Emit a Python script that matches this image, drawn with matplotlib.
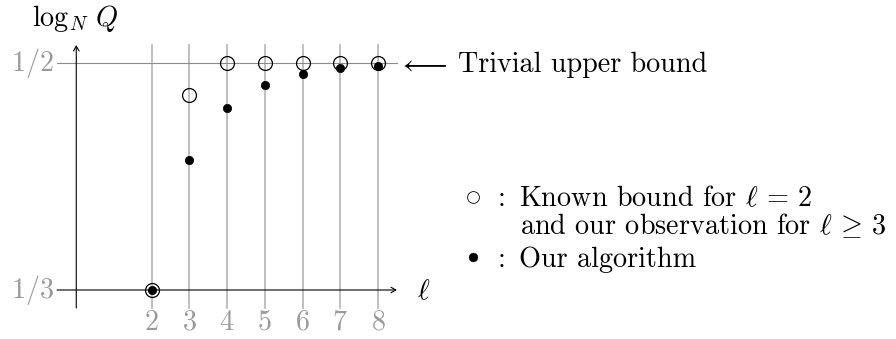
import matplotlib.pyplot as plt

plt.rcParams['font.family'] = 'serif'
plt.rcParams['font.serif'] = ['cmr10']
plt.rcParams['mathtext.fontset'] = 'cm'
plt.rcParams['axes.unicode_minus'] = False

# data
ell = [2, 3, 4, 5, 6, 7, 8]
known_bound = [0.3333, 0.4762, 0.5, 0.5, 0.5, 0.5, 0.5]
our_algorithm = [0.3333, 0.4286, 0.4667, 0.4839, 0.4921, 0.4961, 0.4980]
x_tick_labels = ['2', '3', '4', '5', '6', '7', '8']
y_ticks = [1 / 3, 1 / 2]
y_tick_labels = ['$1/3$', '$1/2$']

W, H = 896, 339
fig = plt.figure(figsize=(W / 100, H / 100), dpi=100)
ax = fig.add_axes([0, 0, 1, 1])
ax.set_xlim(-2.022, 21.73)
ax.set_ylim(0.29736, 0.54626)
ax.axis('off')

gray = '#b4b4b4'
ylo, yhi = 0.3201, 0.5132

# vertical grid lines
for x in ell:
    ax.plot([x, x], [ylo, yhi], color=gray, lw=1.2, zorder=1)
# horizontal line at 1/2
ax.plot([-0.51, 8.5], [0.5, 0.5], color='#8c8c8c', lw=0.8, zorder=1)

# axes with arrows
ax.annotate('', xy=(8.5, 1 / 3), xytext=(-0.51, 1 / 3),
            arrowprops=dict(arrowstyle='->,head_length=0.35,head_width=0.2', color='black', lw=0.8,
                            shrinkA=0, shrinkB=0), zorder=2)
ax.annotate('', xy=(0, yhi), xytext=(0, ylo),
            arrowprops=dict(arrowstyle='->,head_length=0.35,head_width=0.2', color='black', lw=0.8,
                            shrinkA=0, shrinkB=0), zorder=2)

# points
ax.plot(ell, known_bound, 'o', ms=10, mfc='none', mec='black', mew=0.9, zorder=3)
ax.plot(ell, our_algorithm, 'o', ms=6, mfc='black', mec='black', mew=0.5, zorder=4)

def ptext(x, y, s, **kw):
    kw.setdefault('va', 'baseline')
    fig.text(x / W, 1 - y / H, s, fontsize=20.3, **kw)

# tick labels (pixel positions of baselines)
tick_px = [151.7, 189.3, 227, 264.7, 302.3, 340, 378]
for px, lab in zip(tick_px, x_tick_labels):
    ptext(px, 330, '$' + lab + '$', color='#9a9a9a', ha='center')
for py, lab in zip([297.7, 71.2], y_tick_labels):
    ptext(54, py, lab, color='#9a9a9a', ha='right')

ptext(75, 26.5, r'$\log_N\, Q$', ha='center')
ptext(424, 299, r'$\ell$', ha='center')
ptext(423, 64, r'$\longleftarrow$', ha='center', va='center')
ptext(458, 71.7, 'Trivial upper bound', ha='left')

# legend symbols
fig.lines.append(plt.Line2D([472.5 / W], [1 - 196.7 / H], marker='o', ms=8.5, mfc='none',
                            mec='black', mew=0.6, transform=fig.transFigure))
fig.lines.append(plt.Line2D([473 / W], [1 - 256.7 / H], marker='o', ms=6.4, mfc='black',
                            mec='black', mew=0.3, transform=fig.transFigure))

ptext(502, 205.7, ':', ha='center')
ptext(519, 205.7, r'Known bound for $\ell\,=\,2$', ha='left')
ptext(520, 234.3, r'and our observation for $\ell\,\geq\,3$', ha='left')
ptext(502, 266.7, ':', ha='center')
ptext(519, 266.7, 'Our algorithm', ha='left')

fig.savefig('out.png', dpi=100)
